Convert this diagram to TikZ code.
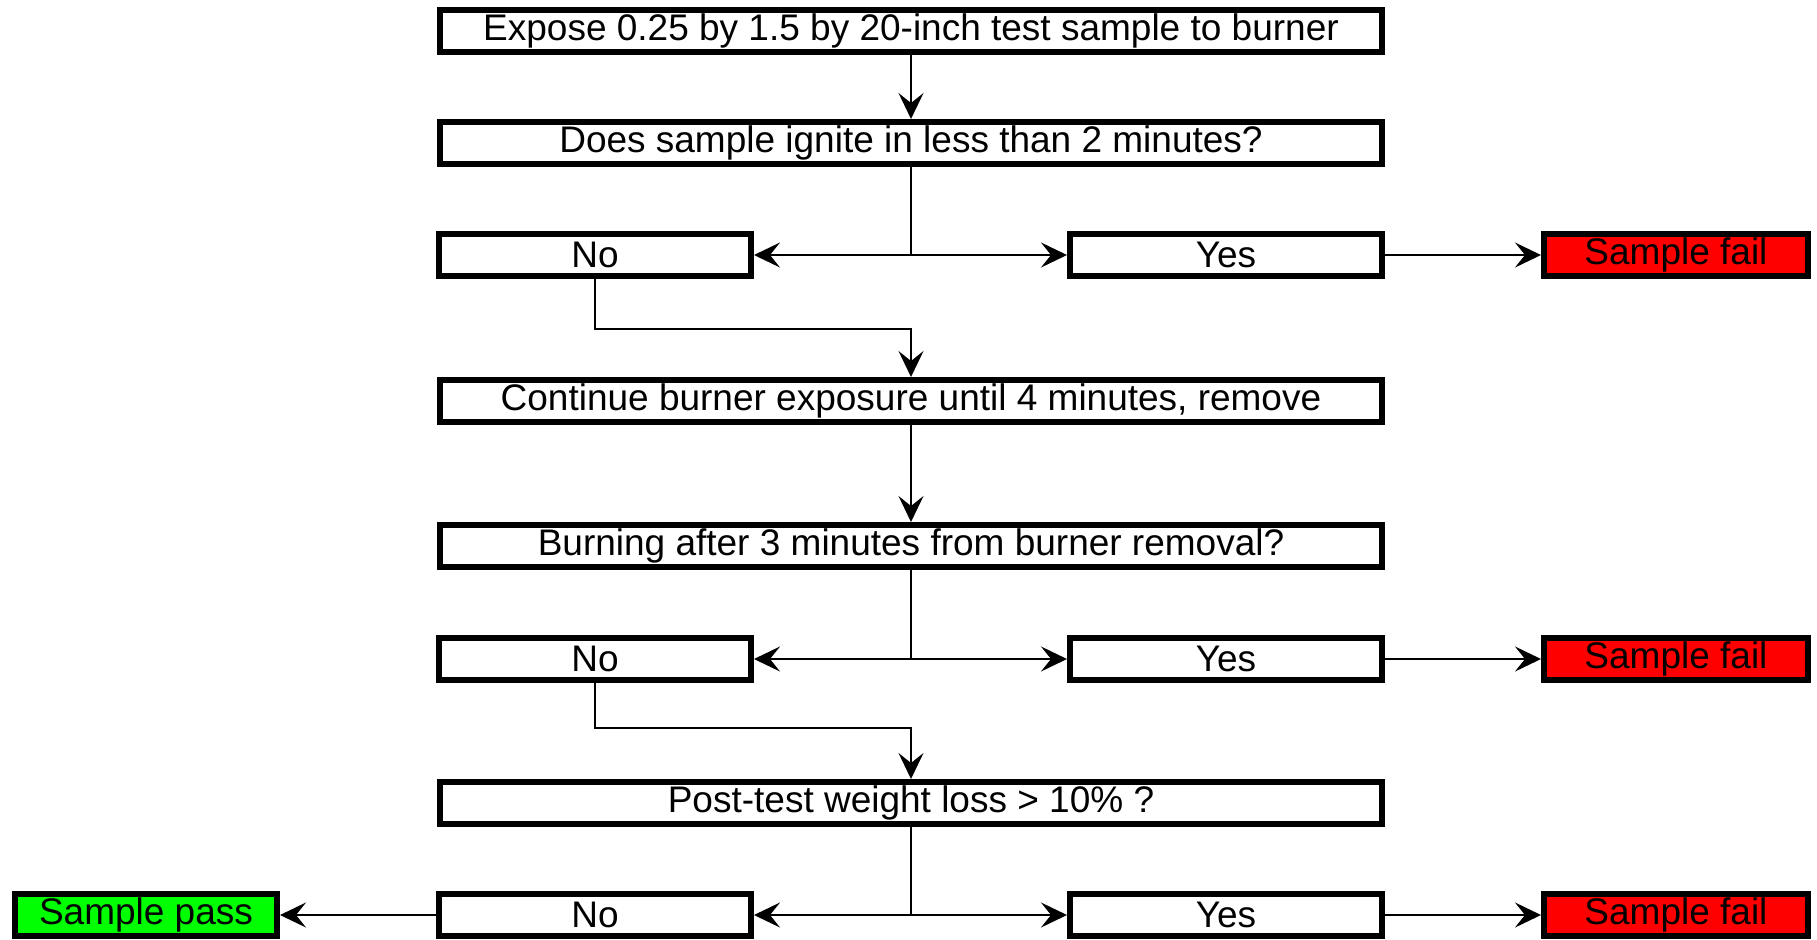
\documentclass[tikz,border=0pt]{standalone}
\usepackage{fontspec}
\setmainfont{Liberation Sans}
\usetikzlibrary{arrows.meta}
\tikzset{
    stepbox/.style={draw, line width=3pt, inner sep=0pt, minimum height=21pt, font=\fontsize{18.5}{20}\selectfont},
    mainbox/.style={stepbox, minimum width=471pt},
    answerbox/.style={stepbox, minimum width=156pt},
    failbox/.style={stepbox, minimum width=132pt, fill=red},
    passbox/.style={stepbox, minimum width=131pt, fill=green},
}
\begin{document}
\begin{tikzpicture}[x=0.5pt, y=-0.5pt, >={Stealth[length=13pt, width=12.5pt, inset=5pt]}, line width=1pt]
    \useasboundingbox (0,0) rectangle (1817,939);
    % main column
    \draw (911,31)node[mainbox, name=expose]{Expose 0.25 by 1.5 by 20-inch test sample to burner};
    \draw (911,143)node[mainbox, name=ignite]{Does sample ignite in less than 2 minutes?};
    \draw (911,401)node[mainbox, name=cont]{Continue burner exposure until 4 minutes, remove};
    \draw (911,546)node[mainbox, name=burning]{Burning after 3 minutes from burner removal?};
    \draw (911,803)node[mainbox, name=loss]{Post-test weight loss > 10\% ?};
    % answers
    \draw (595,255)node[answerbox, name=noA]{No};
    \draw (1226,255)node[answerbox, name=yesA]{Yes};
    \draw (1676,255)node[failbox, name=failA]{Sample fail};
    \draw (595,659)node[answerbox, name=noB]{No};
    \draw (1226,659)node[answerbox, name=yesB]{Yes};
    \draw (1676,659)node[failbox, name=failB]{Sample fail};
    \draw (595,915)node[answerbox, name=noC]{No};
    \draw (1226,915)node[answerbox, name=yesC]{Yes};
    \draw (1676,915)node[failbox, name=failC]{Sample fail};
    \draw (146,915)node[passbox, name=pass]{Sample pass};
    % connectors
    \draw[->] (expose) -- (ignite);
    \draw[->] (ignite.south) |- (noA.east);
    \draw[->] (ignite.south) |- (yesA.west);
    \draw[->] (yesA) -- (failA);
    \draw[->] (noA.south) --++(0,50) -| (cont.north);
    \draw[->] (cont) -- (burning);
    \draw[->] (burning.south) |- (noB.east);
    \draw[->] (burning.south) |- (yesB.west);
    \draw[->] (yesB) -- (failB);
    \draw[->] (noB.south) --++(0,45) -| (loss.north);
    \draw[->] (loss.south) |- (noC.east);
    \draw[->] (loss.south) |- (yesC.west);
    \draw[->] (yesC) -- (failC);
    \draw[->] (noC) -- (pass);
\end{tikzpicture}
\end{document}
